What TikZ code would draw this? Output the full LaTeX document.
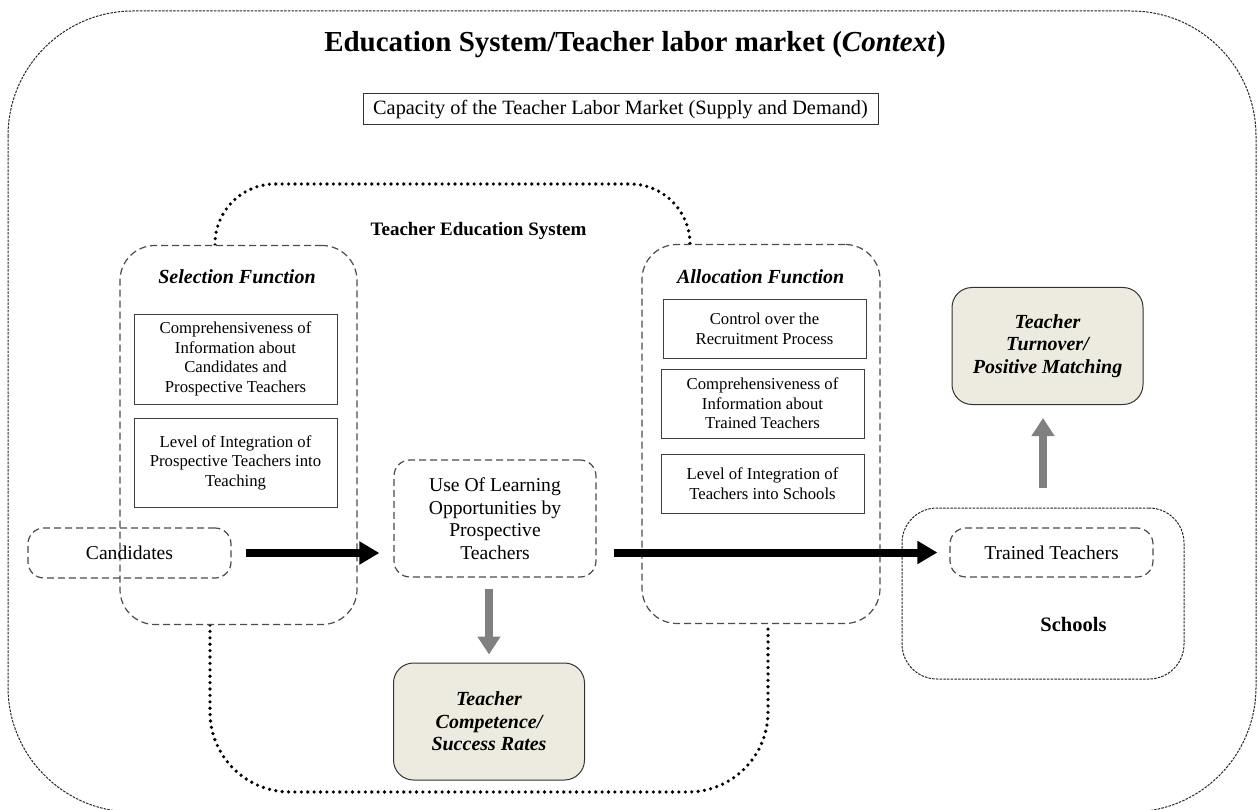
\documentclass[tikz,border=0pt]{standalone}
\usepackage{fontspec}
\setmainfont{Liberation Serif}
\usetikzlibrary{arrows.meta}

\definecolor{outcomefill}{RGB}{237,235,224}
\definecolor{arrowgray}{RGB}{128,128,128}

\newcommand{\fsitem}{\fontsize{16.7pt}{19.5pt}\selectfont}
\newcommand{\fsbox}{\fontsize{19.6pt}{22.6pt}\selectfont}
\newcommand{\fshead}{\fontsize{20pt}{22.5pt}\selectfont\bfseries\itshape}

\begin{document}
\begin{tikzpicture}[x=1pt,y=-1pt,
  frame/.style={draw=black!85, line width=1pt, dash pattern=on 2.5pt off 1.2pt},
  tesystem/.style={line width=3.6pt, dash pattern=on 0pt off 6.4pt, line cap=round},
  funcbox/.style={draw=black!70, fill=white, line width=1.2pt, dash pattern=on 7pt off 4pt, rounded corners=35pt, minimum width=237pt, minimum height=379pt, inner sep=0pt},
  itembox/.style={draw=black!75, fill=white, line width=1pt, align=center, font=\fsitem, minimum width=203pt, inner sep=0pt},
  stagebox/.style={draw=black!70, line width=1.2pt, dash pattern=on 7pt off 4pt, rounded corners=16pt, align=center, font=\fsbox, inner sep=0pt},
  outcome/.style={draw=black!80, fill=outcomefill, line width=1pt, rounded corners=20pt, align=center, font=\fshead, minimum width=191pt, minimum height=117pt},
  flow/.style={line width=8pt, -{Triangle[length=20pt,width=22pt]}},
  result/.style={draw=arrowgray, line width=8pt, -{Triangle[length=18pt,width=22pt]}}
]
\useasboundingbox (0,0) rectangle (1258,810);
\clip (0,0) rectangle (1258,810);

% context
\draw[frame, rounded corners=125pt] (8,11) rectangle (1256,812);

\node (title) at (635,45) {\fontsize{29pt}{33pt}\selectfont\bfseries Education System/Teacher labor market (\textit{Context})};

\node[draw=black!80, line width=1pt, minimum width=515pt, minimum height=31pt, inner sep=0pt, font=\fontsize{20.3pt}{23pt}\selectfont] (capacity) at (620.5,109.5) {Capacity of the Teacher Labor Market (Supply and Demand)};

% teacher education system
\draw[tesystem, rounded corners=60pt] (215,245) -- (215,184) -- (690,184) -- (690,245);
\draw[tesystem, rounded corners=80pt] (210,625) -- (210,792) -- (768,792) -- (768,625);

\node[font=\fontsize{19pt}{22pt}\selectfont\bfseries] (tes) at (478.5,231) {Teacher Education System};

% selection
\node[funcbox] (selection) at (238.5,435) {};
\node[font=\fshead] (seltitle) at (237,277) {Selection Function};
\node[itembox, minimum height=90pt] (selinfo) at (235.5,359) {Comprehensiveness of\\Information about\\Candidates and\\Prospective Teachers};
\node[itembox, minimum height=89pt] (selintegr) at (235.5,462.5) {Level of Integration of\\Prospective Teachers into\\Teaching};

% allocation
\node[funcbox, minimum width=238pt] (allocation) at (761,434) {};
\node[font=\fshead] (alloctitle) at (760.7,277) {Allocation Function};
\node[itembox, minimum height=58pt] (recruit) at (764.5,329) {Control over the\\Recruitment Process};
\node[itembox, minimum height=69pt] (allocinfo) at (762.5,403.5) {Comprehensiveness of\\Information about\\Trained Teachers};
\node[itembox, minimum height=59pt] (allocintegr) at (762.5,483.5) {Level of Integration of\\Teachers into Schools};

% stages
\node[stagebox, minimum width=203pt, minimum height=50pt] (candidates) at (129.5,553) {Candidates};
\node[stagebox, minimum width=202pt, minimum height=117pt] (learning) at (495,518.5) {Use Of Learning\\Opportunities by\\Prospective\\Teachers};

% schools
\node[frame, rounded corners=35pt, minimum width=282pt, minimum height=171pt] (schools) at (1043,593.5) {};
\node[stagebox, minimum width=203pt, minimum height=49pt] (trained) at (1051.5,552.5) {Trained Teachers};
\node[font=\fontsize{20.5pt}{24pt}\selectfont\bfseries] (schoolslbl) at (1073.5,624) {Schools};

% outcomes
\node[outcome] (competence) at (489,721.5) {Teacher\\Competence/\\Success Rates};
\node[outcome] (turnover) at (1047.5,346) {Teacher\\Turnover/\\Positive Matching};

% arrows
\draw[flow, shorten <=14pt, shorten >=14pt] (candidates.east) -- (candidates.east -| learning.west);
\draw[flow, shorten <=17pt, shorten >=12pt] (learning.east |- trained) -- (trained.west);
\draw[result, shorten <=11pt, shorten >=8pt] (learning.south -| competence) -- (competence.north);
\draw[result, shorten <=20pt, shorten >=13pt] (schools.north) -- (schools.north |- turnover.south);

\end{tikzpicture}
\end{document}
